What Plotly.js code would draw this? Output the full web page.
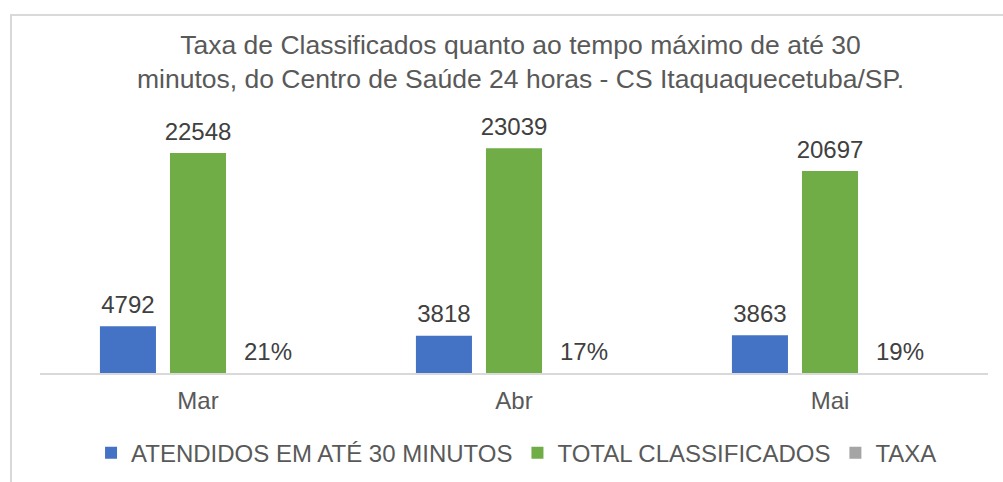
<!DOCTYPE html>
<html>
<head>
<meta charset="utf-8">
<script src="https://cdn.plot.ly/plotly-3.0.1.min.js"></script>
<style>
  html, body { margin: 0; padding: 0; background: #ffffff; }
  #wrap { position: relative; width: 1003px; height: 482px; overflow: hidden; }
  #chart { position: absolute; left: 0; top: 0; width: 1003px; height: 482px; }
  #frame { position: absolute; left: 10px; top: 14px; width: 1100px; height: 600px;
           border-top: 2px solid #d9d9d9; border-left: 2px solid #d9d9d9; pointer-events: none; }
</style>
</head>
<body>
<div id="wrap">
  <div id="chart"></div>
  <div id="frame"></div>
</div>
<script>
const categories = ["Mar", "Abr", "Mai"];
const atendidos = [4792, 3818, 3863];
const totalClassificados = [22548, 23039, 20697];
const taxa = [0.21, 0.17, 0.19];
const seriesNames = ["ATENDIDOS EM ATÉ 30 MINUTOS", "TOTAL CLASSIFICADOS", "TAXA"];
const seriesColors = ["#4472C4", "#70AD47", "#A5A5A5"];

const textFont = { family: "Liberation Sans, Arial, sans-serif", size: 24, color: "#404040" };
const seriesValues = [atendidos, totalClassificados, taxa];
const templates = ["%{y:d}", "%{y:d}", "%{y:.0%}"];

const traces = [];
seriesValues.forEach((vals, i) => {
  traces.push({
    type: "bar", name: seriesNames[i], x: categories, y: vals,
    marker: { color: seriesColors[i] }, offsetgroup: String(i), hoverinfo: "skip"
  });
});
seriesValues.forEach((vals, i) => {
  traces.push({
    type: "scatter", mode: "markers+text", x: categories, y: vals,
    marker: { size: 10, color: "rgba(0,0,0,0)" },
    texttemplate: templates[i], textposition: "top center", textfont: textFont,
    offsetgroup: String(i), showlegend: false, cliponaxis: false, hoverinfo: "skip"
  });
});

const layout = {
  width: 1003, height: 482,
  margin: { l: 40, r: 15, t: 129, b: 109, pad: 0 },
  paper_bgcolor: "#ffffff", plot_bgcolor: "#ffffff",
  font: { family: "Liberation Sans, Arial, sans-serif", color: "#595959" },
  title: {
    text: "Taxa de Classificados quanto ao tempo máximo de até 30<br>minutos, do Centro de Saúde 24 horas - CS Itaquaquecetuba/SP.",
    font: { size: 26.5, color: "#595959" },
    x: 0.519, xanchor: "center", y: 0.888, yanchor: "top", yref: "container",
    automargin: false
  },
  barmode: "group", bargap: 0.335, bargroupgap: 0.2,
  scattermode: "group", scattergap: 0.335,
  xaxis: {
    showline: true, linecolor: "#d9d9d9", linewidth: 1.5, ticks: "",
    tickfont: { size: 24, color: "#595959" }, ticklabelstandoff: 6, fixedrange: true,
    automargin: false
  },
  yaxis: { range: [0, 25000], visible: false, showgrid: false, zeroline: false, fixedrange: true },
  showlegend: true,
  legend: {
    orientation: "h", x: 0.515, xref: "container", xanchor: "center",
    y: 0.06, yref: "container", yanchor: "middle",
    font: { size: 24, color: "#595959" }, itemclick: false, itemdoubleclick: false
  }
};

Plotly.newPlot("chart", traces, layout, { displayModeBar: false, staticPlot: true });
</script>
</body>
</html>
